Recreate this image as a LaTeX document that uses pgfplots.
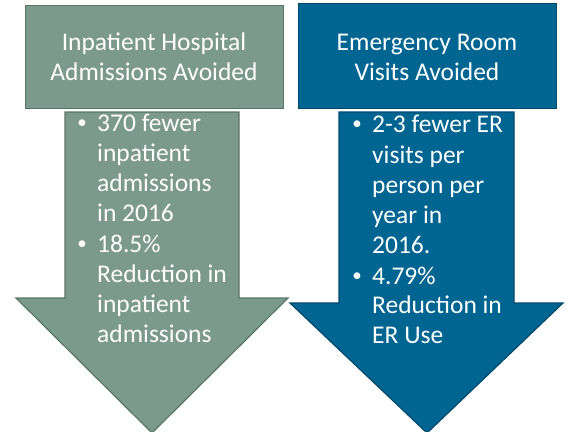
\documentclass[border=0pt]{standalone}
\usepackage{pgfplots}
\pgfplotsset{compat=1.18}
\usepackage{fontspec}
\setmainfont{Carlito}
\definecolor{sage}{RGB}{123,153,140}
\definecolor{sagedark}{RGB}{88,118,104}
\definecolor{tealblue}{RGB}{1,101,146}
\definecolor{tealdark}{RGB}{0,72,110}
\newcommand{\fs}{\fontsize{25.5}{30}\selectfont}
\newcommand{\txl}[3]{\node[anchor=base west,inner sep=0pt,text=white,font=\fs] at (axis cs:#1,#2) {#3};}
\newcommand{\bul}[2]{\node[anchor=base,inner sep=0pt,text=white,font=\fontsize{19}{30}\selectfont] at (axis cs:#1,#2) {\raisebox{2.5pt}{\textbullet}};}
\newcommand{\ttl}[3]{\node[anchor=base,inner sep=0pt,text=white,font=\fs] at (axis cs:#1,#2) {#3};}
\begin{document}
\begin{tikzpicture}
\begin{axis}[
  width=569pt, height=431pt, scale only axis,
  xmin=0, xmax=569, ymin=0, ymax=431, y dir=reverse,
  axis lines=none, clip=true,
]
% left title box
\addplot[fill=sage, draw=sagedark, line width=1pt] coordinates {(25,5) (283,5) (283,108) (25,108)} --cycle;
% left arrow
\addplot[fill=sage, draw=sagedark, line width=1.2pt] coordinates {(65,112) (239,112) (239,298) (288,298) (152,433) (16,298) (65,298)} --cycle;
% right title box
\addplot[fill=tealblue, draw=tealdark, line width=1pt] coordinates {(298,3) (556,3) (556,108) (298,108)} --cycle;
% right arrow
\addplot[fill=tealblue, draw=tealdark, line width=1.2pt] coordinates {(339,112) (514,112) (514,303) (563,303) (427,433) (290,303) (339,303)} --cycle;

\ttl{154}{50}{Inpatient Hospital}
\ttl{154}{80}{Admissions Avoided}
\ttl{427}{50}{Emergency Room}
\ttl{427}{80}{Visits Avoided}

\bul{82}{131}
\txl{97}{131}{370 fewer}
\txl{97}{161}{inpatient}
\txl{97}{191}{admissions}
\txl{97}{221}{in 2016}
\bul{82}{252}
\txl{97}{252}{18.5\%}
\txl{97}{282}{Reduction in}
\txl{97}{312}{inpatient}
\txl{97}{342}{admissions}

\bul{357}{132}
\txl{372}{132}{2-3 fewer ER}
\txl{372}{163}{visits per}
\txl{372}{193}{person per}
\txl{372}{223}{year in}
\txl{372}{253}{2016.}
\bul{357}{284}
\txl{372}{284}{4.79\%}
\txl{372}{313}{Reduction in}
\txl{372}{343}{ER Use}
\end{axis}
\path (current axis.south west) rectangle (current axis.north east);
\end{tikzpicture}
\end{document}
